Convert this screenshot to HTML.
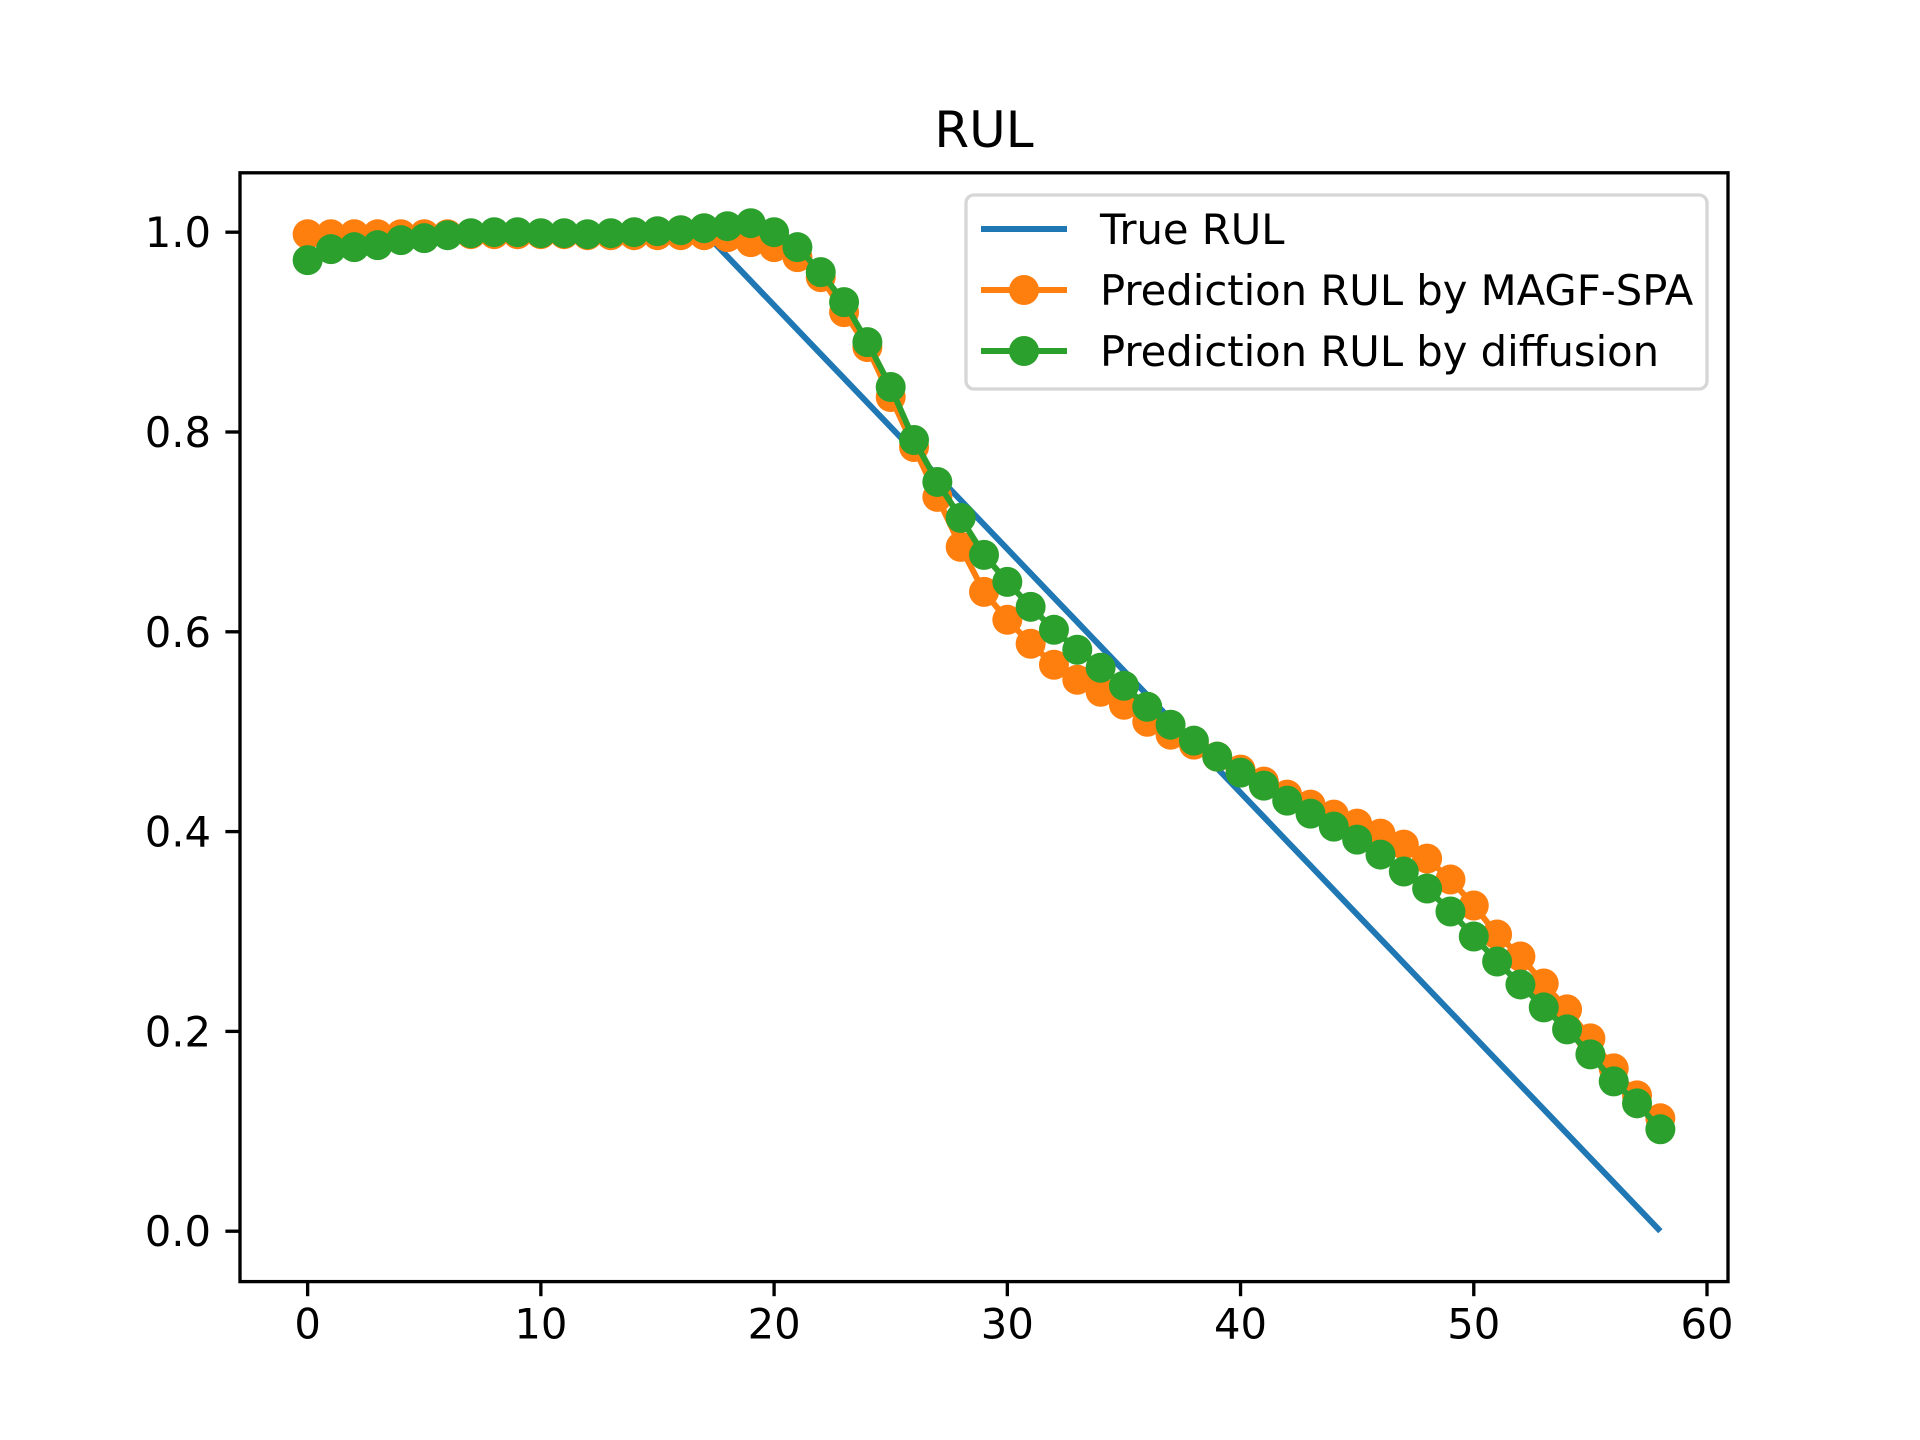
<!DOCTYPE html>
<html><head><meta charset="utf-8"><style>
html,body{margin:0;padding:0;background:#fff;}
svg{display:block;font-family:"DejaVu Sans","Liberation Sans",sans-serif;}
</style></head><body>
<svg id="chart" width="1920" height="1440" viewBox="0 0 1920 1440" xmlns="http://www.w3.org/2000/svg">
<rect width="1920" height="1440" fill="#fff"/>
<text x="984" y="147" font-size="50" text-anchor="middle">RUL</text>
<g id="plot"></g>
<g id="axes"></g>
<g id="legend"></g>
</svg>
<script>
const xTicks = [0,10,20,30,40,50,60];
const yTicks = [0.0,0.2,0.4,0.6,0.8,1.0];
const yTickLabels = ["0.0","0.2","0.4","0.6","0.8","1.0"];
const trueRUL = [1,1,1,1,1,1,1,1,1,1,1,1,1,1,1,1,1,1,0.9756,0.9512,0.9268,0.9024,0.878,0.8537,0.8293,0.8049,0.7805,0.7561,0.7317,0.7073,0.6829,0.6585,0.6341,0.6098,0.5854,0.561,0.5366,0.5122,0.4878,0.4634,0.439,0.4146,0.3902,0.3659,0.3415,0.3171,0.2927,0.2683,0.2439,0.2195,0.1951,0.1707,0.1463,0.122,0.0976,0.0732,0.0488,0.0244,0];
const magfRUL = [0.998,0.998,0.998,0.998,0.998,0.998,0.998,0.998,0.998,0.998,0.998,0.998,0.997,0.997,0.997,0.997,0.997,0.997,0.995,0.99,0.985,0.975,0.955,0.92,0.885,0.835,0.785,0.735,0.685,0.64,0.612,0.588,0.567,0.552,0.54,0.527,0.51,0.497,0.487,0.475,0.462,0.45,0.437,0.427,0.417,0.408,0.398,0.387,0.373,0.352,0.326,0.297,0.275,0.248,0.222,0.193,0.163,0.136,0.113];
const diffRUL = [0.972,0.983,0.985,0.987,0.992,0.994,0.997,0.999,1.0,1.0,0.999,0.999,0.998,0.999,1.0,1.001,1.002,1.004,1.006,1.009,1.0,0.985,0.96,0.93,0.89,0.845,0.792,0.75,0.714,0.677,0.65,0.625,0.602,0.582,0.564,0.546,0.525,0.507,0.491,0.475,0.459,0.446,0.431,0.418,0.405,0.392,0.377,0.36,0.343,0.32,0.295,0.27,0.247,0.224,0.202,0.177,0.15,0.128,0.102];

const NS="http://www.w3.org/2000/svg";
const L=240,R=1728,T=172.8,B=1281.6;
const n=trueRUL.length;
const xmin=-0.05*(n-1), xmax=(n-1)*1.05;
let dmin=Math.min(...trueRUL,...magfRUL,...diffRUL), dmax=Math.max(...trueRUL,...magfRUL,...diffRUL);
const ymin=dmin-0.05*(dmax-dmin), ymax=dmax+0.05*(dmax-dmin);
const sx=v=>L+(v-xmin)/(xmax-xmin)*(R-L);
const sy=v=>B-(v-ymin)/(ymax-ymin)*(B-T);
function el(tag,attrs,parent){const e=document.createElementNS(NS,tag);for(const k in attrs)e.setAttribute(k,attrs[k]);parent.appendChild(e);return e;}
const plot=document.getElementById('plot'), axes=document.getElementById('axes'), leg=document.getElementById('legend');
const MR=15;
function series(vals,color,markers,name){
  const g=el('g',{},plot);
  
  
  const pts=vals.map((v,i)=>sx(i).toFixed(2)+','+sy(v).toFixed(2)).join(' ');
  const pl=el('polyline',{points:pts,fill:'none',stroke:color,'stroke-width':6,'stroke-linejoin':'round'},g);
  
  
  if(markers){vals.forEach((v,i)=>{
    const c=el('circle',{cx:sx(i),cy:sy(v),r:MR,fill:color},g);
    
    
  });}
}
series(trueRUL,'#1f77b4',false,'true-rul-series');
series(magfRUL,'#ff7f0e',true,'magf-spa-series');
series(diffRUL,'#2ca02c',true,'diffusion-series');

const frame=el('rect',{x:L,y:T,width:R-L,height:B-T,fill:'none',stroke:'#000','stroke-width':3.33},axes);


xTicks.forEach(t=>{
  const x=sx(t);
  const tk=el('line',{x1:x,x2:x,y1:B,y2:B+14.6,stroke:'#000','stroke-width':3.33},axes);
  
  
  const tx=el('text',{x:x,y:B+57,'font-size':41.7,'text-anchor':'middle'},axes);
  tx.textContent=String(t);
  
  
});
yTicks.forEach((t,i)=>{
  const y=sy(t);
  const tk=el('line',{x1:L-14.6,x2:L,y1:y,y2:y,stroke:'#000','stroke-width':3.33},axes);
  
  
  const tx=el('text',{x:L-29,y:y+15,'font-size':41.7,'text-anchor':'end'},axes);
  tx.textContent=yTickLabels[i];
  
  
});

const box=el('rect',{x:966,y:195,width:741,height:194,rx:8,fill:'#fff','fill-opacity':0.8,stroke:'#d6d6d6','stroke-width':3.33},leg);


const entries=[['True RUL','#1f77b4',false],['Prediction RUL by MAGF-SPA','#ff7f0e',true],['Prediction RUL by diffusion','#2ca02c',true]];
entries.forEach((e,i)=>{
  const y=229+i*61;
  const g=el('g',{},leg);
  
  
  el('line',{x1:981,x2:1067,y1:y,y2:y,stroke:e[1],'stroke-width':6}, g);
  if(e[2]) el('circle',{cx:1024,cy:y,r:MR,fill:e[1]},g);
  const t=el('text',{x:1100,y:y+15,'font-size':41.7},g);
  t.textContent=e[0];
});
</script>
</body></html>
